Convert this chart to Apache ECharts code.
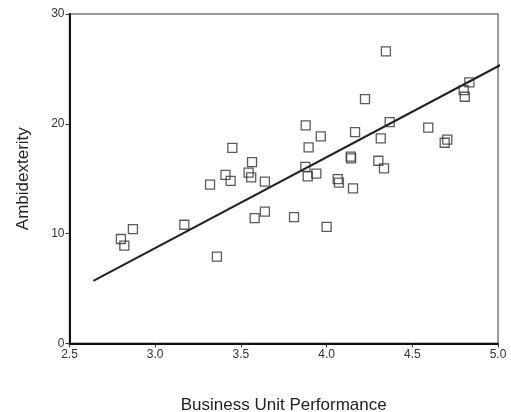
<!DOCTYPE html>
<html>
<head>
<meta charset="utf-8">
<script src="https://cdn.jsdelivr.net/npm/echarts@6/dist/echarts.min.js"></script>
<style>html,body{margin:0;padding:0;background:#fff}#c{width:511px;height:412px}</style>
</head>
<body>
<div id="c"></div>
<script>
var perfX = [2.80, 2.82, 2.87, 3.17, 3.36, 3.32, 3.41, 3.44, 3.45, 3.545, 3.56, 3.565, 3.58, 3.64, 3.64, 3.81, 3.876, 3.878, 3.89, 3.895, 3.94, 3.966, 4.00, 4.065, 4.072, 4.141, 4.143, 4.154, 4.166, 4.224, 4.302, 4.316, 4.335, 4.346, 4.368, 4.593, 4.689, 4.704, 4.80, 4.806, 4.833];
var ambiY = [9.5, 8.9, 10.4, 10.8, 7.9, 14.45, 15.35, 14.8, 17.8, 15.55, 15.12, 16.5, 11.4, 12.0, 14.72, 11.5, 16.08, 19.85, 15.2, 17.85, 15.45, 18.85, 10.6, 14.96, 14.63, 17.0, 16.85, 14.12, 19.24, 22.25, 16.63, 18.67, 15.94, 26.6, 20.15, 19.65, 18.27, 18.56, 23.07, 22.46, 23.77];
var fitX = [2.639, 5.02];
var fitY = [5.68, 25.4];
var xTicks = [2.5, 3.0, 3.5, 4.0, 4.5, 5.0];
var yTicks = [0, 10, 20, 30];

var pts = perfX.map(function (x, i) { return [x, ambiY[i]]; });
var fit = fitX.map(function (x, i) { return [x, fitY[i]]; });

var chart = echarts.init(document.getElementById('c'), null, {renderer: 'canvas'});
chart.setOption({
  animation: false,
  backgroundColor: '#fff',
  grid: {left: 69.5, right: 13, top: 14, bottom: 68.7, outerBoundsMode: 'none', containLabel: false, show: true, borderColor: '#777', borderWidth: 1.5, backgroundColor: 'transparent'},
  xAxis: {
    type: 'value', min: xTicks[0], max: xTicks[xTicks.length - 1], interval: 0.5,
    name: 'Business Unit Performance', nameLocation: 'middle', nameGap: 54,
    nameTextStyle: {fontFamily: 'Liberation Sans', fontSize: 17, color: '#222'},
    axisLine: {show: true, lineStyle: {color: '#111', width: 2}},
    axisTick: {show: true, length: 4, lineStyle: {color: '#333', width: 1}},
    axisLabel: {fontFamily: 'Liberation Sans', fontSize: 12, color: '#333', margin: 5, formatter: function (v) { return v.toFixed(1); }},
    splitLine: {show: false}
  },
  yAxis: {
    type: 'value', min: yTicks[0], max: yTicks[yTicks.length - 1], interval: 10,
    name: 'Ambidexterity', nameLocation: 'middle', nameGap: 38,
    nameTextStyle: {fontFamily: 'Liberation Sans', fontSize: 17, color: '#222'},
    axisLine: {show: true, lineStyle: {color: '#111', width: 2}},
    axisTick: {show: true, length: 4, lineStyle: {color: '#333', width: 1}},
    axisLabel: {fontFamily: 'Liberation Sans', fontSize: 12, color: '#333', margin: 5},
    splitLine: {show: false}
  },
  series: [
    {
      type: 'line', data: fit, showSymbol: false, symbol: 'none', clip: false,
      lineStyle: {color: '#222', width: 2}, z: 2
    },
    {
      type: 'scatter', data: pts, symbol: 'rect', symbolSize: 9,
      itemStyle: {color: 'rgba(255,255,255,0)', borderColor: '#333', borderWidth: 1.3}, z: 3
    }
  ]
});
</script>
</body>
</html>
